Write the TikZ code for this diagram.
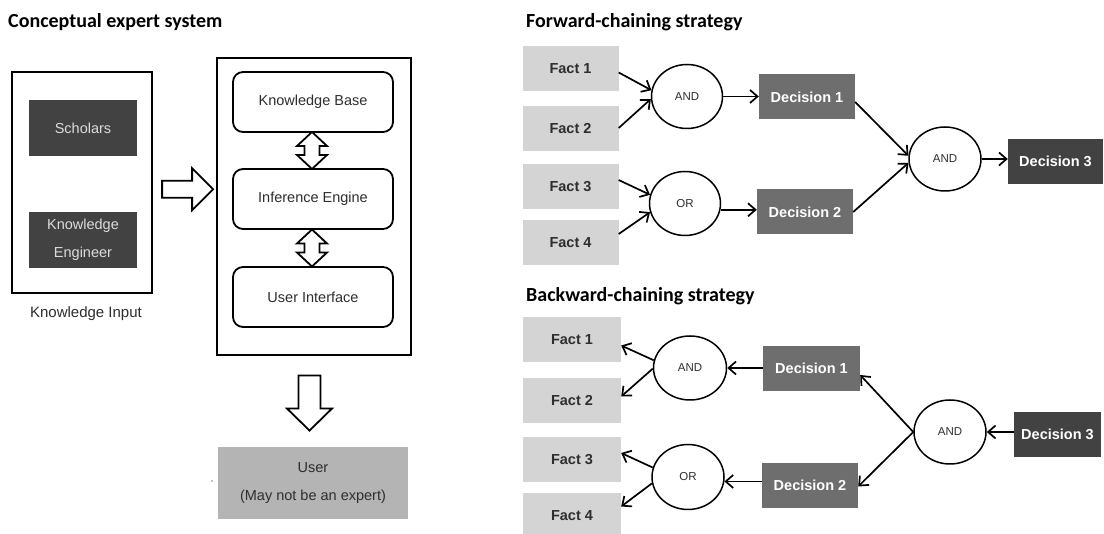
\documentclass[tikz,border=0pt]{standalone}
\usepackage{fontspec}
\setmainfont{Liberation Sans}
\newfontfamily\titlefont{Carlito}
\usetikzlibrary{shapes.geometric,arrows.meta,calc}

\definecolor{boxdark}{HTML}{424242}
\definecolor{boxmid}{HTML}{6E6E6E}
\definecolor{boxlight}{HTML}{D4D4D4}
\definecolor{boxuser}{HTML}{B4B4B4}
\definecolor{inktext}{HTML}{2E2E2E}
\definecolor{paletext}{HTML}{DCDCDC}

\begin{document}
\begin{tikzpicture}[x=1pt,y=-1pt,
  every node/.style={font=\fontsize{14.5}{17}\selectfont, inner sep=0pt},
  heading/.style={anchor=base west, font=\titlefont\bfseries\fontsize{20}{24}\selectfont, text=black},
  frame/.style={draw=black, line width=2.6pt},
  inputbox/.style={fill=boxdark, text=paletext, minimum width=108pt, minimum height=56pt, align=center},
  modulebox/.style={draw=black, line width=1.8pt, rounded corners=10pt, minimum width=160pt, minimum height=60pt, text=inktext},
  userbox/.style={fill=boxuser, text=inktext, minimum width=190pt, minimum height=72pt, align=center},
  blockarrow/.style={draw=black, line width=1.8pt, fill=white, line join=miter},
  factbox/.style={fill=boxlight, text=inktext, font=\bfseries\fontsize{14.5}{17}\selectfont, minimum width=96pt, minimum height=45pt},
  decbox/.style={fill=boxmid, text=white, font=\bfseries\fontsize{14.5}{17}\selectfont, minimum width=96pt, minimum height=45pt},
  finalbox/.style={fill=boxdark, text=white, font=\bfseries\fontsize{14.5}{17}\selectfont, minimum height=45pt},
  gate/.style={ellipse, draw=black, line width=1.5pt, minimum width=71pt, minimum height=64pt, text=inktext, font=\fontsize{11.5}{14}\selectfont},
  conn/.style={line width=1.7pt, -{Straight Barb[length=7.5pt,width=13pt,line width=1.7pt]}}
]
\useasboundingbox (0,0) rectangle (1104,534);
\clip (0,0) rectangle (1104,534);
\fill[white] (0,0) rectangle (1104,534);

% ---------- Conceptual expert system ----------
\node[heading] (tconcept) at (8,28) {Conceptual expert system};

\node[frame, minimum width=140pt, minimum height=221pt] (inp) at (82,182.5) {};
\node[inputbox] (scholars) at (83,128) {Scholars};
\node[inputbox] (engineer) at (83,240) {Knowledge\\[11pt]Engineer};
\node[text=inktext, font=\fontsize{15}{18}\selectfont] (inplabel) at (86,314) {Knowledge Input};

\node[frame, minimum width=194pt, minimum height=297pt] (sys) at (314,206.5) {};
\node[modulebox] (kb) at (313,102) {Knowledge Base};
\node[modulebox] (ie) at (313,199) {Inference Engine};
\node[modulebox] (ui) at (313,297) {User Interface};

\node[userbox] (user) at (313,483) {User\\[11pt](May not be an expert)};
\fill[gray] (212,481) circle (0.9pt);

% hollow block arrows
\coordinate (ra) at ([yshift=6.5pt]$(inp.east)!0.55!(sys.west)$);
\draw[blockarrow, shift={(ra)}]
  (-25.5,-8.5) -- (4.5,-8.5) -- (4.5,-21) -- (25.5,0) -- (4.5,21) -- (4.5,8.5) -- (-25.5,8.5) -- cycle;

\coordinate (da1) at ([xshift=-1pt]$(kb.south)!0.5!(ie.north)$);
\coordinate (da2) at ([xshift=-1pt]$(ie.south)!0.5!(ui.north)$);
\foreach \c in {da1,da2}{
  \draw[blockarrow, shift={(\c)}]
    (0,-18.5) -- (15,-4.5) -- (7.5,-4.5) -- (7.5,4.5) -- (15,4.5) -- (0,18.5)
    -- (-15,4.5) -- (-7.5,4.5) -- (-7.5,-4.5) -- (-15,-4.5) -- cycle;
}

\coordinate (dn) at ([xshift=-4pt,yshift=-1.5pt]$(sys.south)!0.5!(user.north)$);
\draw[blockarrow, shift={(dn)}]
  (-11,-27.5) -- (11,-27.5) -- (11,5.5) -- (22.5,5.5) -- (0,27.5) -- (-22.5,5.5) -- (-11,5.5) -- cycle;

% ---------- Forward chaining ----------
\node[heading] (tforward) at (526,28) {Forward-chaining strategy};

\node[factbox] (f1) at (570.5,68.5) {Fact 1};
\node[factbox] (f2) at (570.5,129) {Fact 2};
\node[factbox] (f3) at (570.5,187) {Fact 3};
\node[factbox] (f4) at (570.5,242.5) {Fact 4};

\node[gate] (and1) at (687,96.5) {AND};
\node[gate] (or1) at (685,203.5) {OR};
\node[decbox] (d1) at (807,97) {Decision 1};
\node[decbox] (d2) at (805,212) {Decision 2};
\node[gate, minimum width=72pt] (and2) at (945,159) {AND};
\node[finalbox, minimum width=95pt] (d3) at (1055.5,161.5) {Decision 3};

\draw[conn] ([yshift=-4pt]f1.east) -- (and1.170);
\draw[conn] ([yshift=1pt]f2.east) -- (and1.184);
\draw[conn] ([yshift=7pt]f3.east) -- (or1.166);
\draw[conn] ([yshift=8.5pt]f4.east) -- (or1.194);
\draw[conn] (and1.east) -- (and1.east -| d1.west);
\draw[conn] (or1.-10) -- (or1.-10 -| d2.west);
\draw[conn] ([yshift=-5pt]d1.east) -- (and2.175);
\draw[conn] (d2.east) -- (and2.186);
\draw[conn] (and2.east) -- (and2.east -| d3.west);

% ---------- Backward chaining ----------
\node[heading] (tbackward) at (526,302) {Backward-chaining strategy};

\node[factbox, minimum width=98pt] (g1) at (572,339.5) {Fact 1};
\node[factbox, minimum width=98pt] (g2) at (572,400.5) {Fact 2};
\node[factbox, minimum width=98pt] (g3) at (572,459.5) {Fact 3};
\node[factbox, minimum width=98pt] (g4) at (572,515.5) {Fact 4};

\node[gate, minimum width=73pt] (and3) at (690,368) {AND};
\node[gate, minimum width=72pt, minimum height=65pt] (or3) at (688,477) {OR};
\node[decbox, minimum width=97pt] (e1) at (811.5,368.5) {Decision 1};
\node[decbox] (e2) at (810,485.5) {Decision 2};
\node[gate, minimum width=72pt] (and4) at (950,432) {AND};
\node[finalbox, minimum width=87pt] (e3) at (1057.5,434.5) {Decision 3};

\draw[conn] (and3.168) -- ([yshift=-6pt]g1.east);
\draw[conn] (and3.181) -- ([yshift=4pt]g2.east);
\draw[conn] (or3.165) -- ([yshift=6.5pt]g3.east);
\draw[conn] (or3.190) -- ([yshift=9pt]g4.east);
\draw[conn] (e1.west |- and3.east) -- (and3.east);
\draw[conn] (e2.west |- or3.-7) -- (or3.-7);
\draw[conn] (and4.west) -- ([yshift=-6.5pt]e1.east);
\draw[conn] (and4.west) -- ([yshift=-1pt]e2.east);
\draw[conn] (e3.west |- and4.east) -- (and4.east);
\end{tikzpicture}
\end{document}
